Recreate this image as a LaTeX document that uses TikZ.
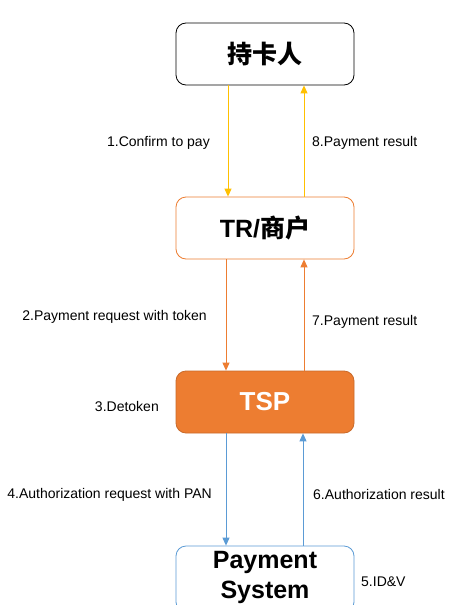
\documentclass[tikz,border=0pt]{standalone}
\usepackage{fontspec}
\setmainfont{Liberation Sans}
\newfontfamily\cjk{Noto Sans CJK SC}
\usetikzlibrary{arrows.meta}
\definecolor{cyel}{HTML}{FFC000}
\definecolor{corg}{HTML}{ED7D31}
\definecolor{cblu}{HTML}{5B9BD5}
\tikzset{
  box/.style={draw, rounded corners=10pt, minimum width=178pt, minimum height=62pt, line width=0.8pt, inner sep=0pt, font=\fontsize{25}{30}\selectfont\bfseries, align=center},
  flow/.style={line width=0.9pt, -{Triangle[width=7pt,length=8pt]}},
  lbl/.style={font=\fontsize{14}{16}\selectfont, inner sep=0pt, yshift=-1.5pt}
}
\begin{document}
\begin{tikzpicture}[x=1pt,y=-1pt]
\useasboundingbox (0,0) rectangle (455,605);
\clip (0,0) rectangle (455,605);
\fill[white] (0,0) rectangle (455,605);
\node[box, draw=black] (card) at (265,54) {{\cjk\bfseries 持卡人}};
\node[box, draw=corg] (tr) at (265,228) {TR/{\cjk\bfseries 商户}};
\node[box, draw=corg!85!black, fill=corg, text=white, font=\fontsize{26}{30}\selectfont\bfseries] (tsp) at (265,402) {TSP};
\node[box, draw=cblu, minimum height=66pt] (ps) at (265,579) {};
\node[font=\fontsize{25}{30}\selectfont\bfseries, inner sep=0pt] (pst1) at (265,562) {Payment};
\node[font=\fontsize{25}{30}\selectfont\bfseries, inner sep=0pt] (pst2) at (265,592) {System};
% arrows
\draw[flow, cyel] ([xshift=-37pt]card.south) -- ([xshift=-37pt]tr.north);
\draw[flow, cyel] ([xshift=39pt]tr.north) -- ([xshift=39pt]card.south);
\draw[flow, corg] ([xshift=-39pt]tr.south) -- ([xshift=-39pt]tsp.north);
\draw[flow, corg] ([xshift=39pt]tsp.north) -- ([xshift=39pt]tr.south);
\draw[flow, cblu] ([xshift=-39pt]tsp.south) -- ([xshift=-39pt]ps.north);
\draw[flow, cblu] ([xshift=38pt]ps.north) -- ([xshift=38pt]tsp.south);
% labels
\node[lbl, anchor=east] (l1) at (210,141) {1.Confirm to pay};
\node[lbl, anchor=west] (l8) at (312,141) {8.Payment result};
\node[lbl, anchor=east] (l2) at (207,315) {2.Payment request with token};
\node[lbl, anchor=west] (l7) at (312,320) {7.Payment result};
\node[lbl, anchor=east] (l3) at (159,405) {3.Detoken};
\node[lbl, anchor=east] (l4) at (212,493) {4.Authorization request with PAN};
\node[lbl, anchor=west] (l6) at (313,493) {6.Authorization result};
\node[lbl, anchor=west] (l5) at (361,580) {5.ID\&V};
\end{tikzpicture}
\end{document}
